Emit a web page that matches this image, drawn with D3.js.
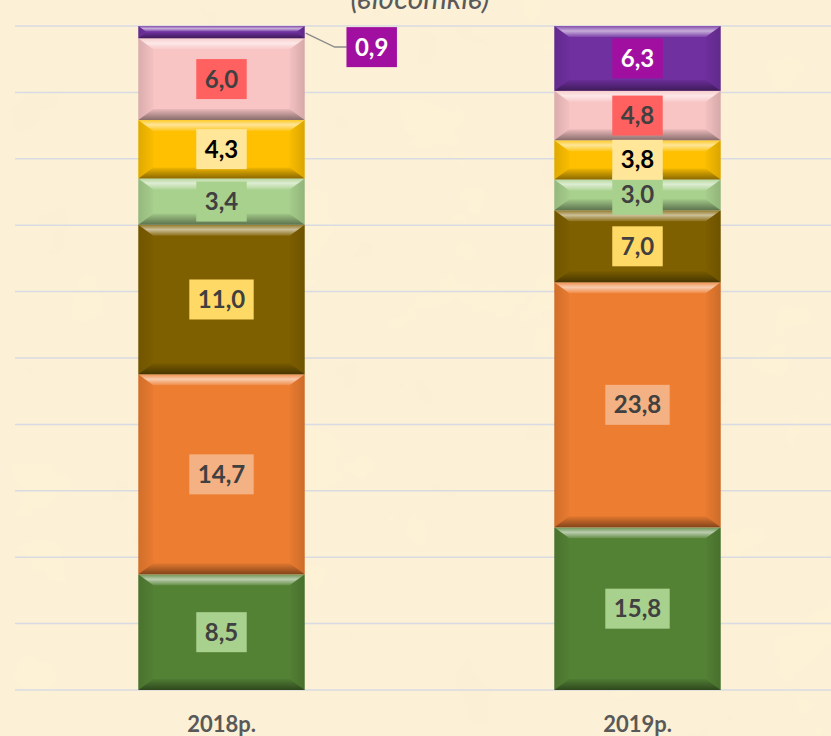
<!DOCTYPE html>
<html>
<head>
<meta charset="utf-8">
<title>Stacked chart</title>
<script src="https://cdnjs.cloudflare.com/ajax/libs/d3/7.8.5/d3.min.js"></script>
<style>
  html, body { margin: 0; padding: 0; background: #fcf0d6; }
  svg { display: block; }
</style>
</head>
<body>
<div id="chart"></div>
<script>
// data
const years = ["2018р.", "2019р."];
const values2018 = [8.5, 14.7, 11.0, 3.4, 4.3, 6.0, 0.9];
const values2019 = [15.8, 23.8, 7.0, 3.0, 3.8, 4.8, 6.3];
const segColors = ["#548235", "#ed7d31", "#7f6000", "#a9d18e", "#fec000", "#f8c4c4", "#7030a0"];
const boxColors = ["#a9d18e", "#f4b183", "#ffd966", "#a9d18e", "#ffe699", "#ff6161", "#a00fa0"];
const textColors = ["#404040", "#404040", "#404040", "#404040", "#000000", "#404040", "#ffffff"];
const yTicks = [0, 10, 20, 30, 40, 50, 60, 70, 80, 90, 100];

const width = 831, height = 736;
const svg = d3.select("#chart").append("svg")
    .attr("width", width)
    .attr("height", height);

const defs = svg.append("defs");

// parchment texture
const f = defs.append("filter").attr("id", "paper")
    .attr("x", 0).attr("y", 0).attr("width", "100%").attr("height", "100%");
f.append("feTurbulence").attr("type", "fractalNoise")
    .attr("baseFrequency", 0.012).attr("numOctaves", 4).attr("seed", 3);
f.append("feColorMatrix").attr("type", "matrix")
    .attr("values", "0 0 0 0 0.93  0 0 0 0 0.84  0 0 0 0 0.66  0 0 0 0.4 -0.05");

svg.append("rect").attr("width", width).attr("height", height).attr("fill", "#fdf1d6");
svg.append("rect").attr("width", width).attr("height", height).attr("filter", "url(#paper)");

// bevel gradients
function grad(id, stops, vertical) {
    const g = defs.append("linearGradient").attr("id", id)
        .attr("x1", 0).attr("y1", 0)
        .attr("x2", vertical ? 0 : 1).attr("y2", vertical ? 1 : 0);
    stops.forEach(s => g.append("stop").attr("offset", s[0])
        .attr("stop-color", s[1]).attr("stop-opacity", s[2]));
}
grad("bvTop", [[0, "#fff", 0.15], [0.45, "#fff", 0.6], [1, "#fff", 0.1]], true);
grad("bvBot", [[0, "#000", 0.05], [1, "#000", 0.45]], true);
grad("bvLeft", [[0, "#000", 0.12], [1, "#000", 0.02]], false);
grad("bvRight", [[0, "#000", 0.02], [1, "#000", 0.14]], false);

const x = d3.scaleBand().domain(years).range([13.5, 845.5]).paddingInner(0.6).paddingOuter(0.3);
const y = d3.scaleLinear().domain([0, 100]).range([690, 26]);

// gridlines
svg.append("g").selectAll("line")
    .data(yTicks)
    .join("line")
    .attr("x1", 15).attr("x2", width)
    .attr("y1", d => y(d)).attr("y2", d => y(d))
    .attr("stroke", "#d8dbe2")
    .attr("stroke-width", 1.5);

// title (cut off at the top, as in the source)
svg.append("text")
    .attr("x", 420).attr("y", 9)
    .attr("text-anchor", "middle")
    .style("font-family", "Lato, 'Open Sans', sans-serif")
    .style("font-style", "italic")
    .style("font-size", "30px")
    .style("fill", "#595959")
    .text("(відсотків)");

const allValues = [values2018, values2019];

allValues.forEach((vals, yi) => {
    const total = d3.sum(vals);
    const x0 = x(years[yi]);
    const w = x.bandwidth();
    let cum = 0;
    const segs = vals.map((v, i) => {
        const s = { v, i, p0: cum / total * 100, p1: (cum + v) / total * 100 };
        cum += v;
        return s;
    });

    const g = svg.append("g");
    segs.forEach(s => {
        const top = y(s.p1), bot = y(s.p0);
        const h = bot - top;
        const k = Math.min(1, h / 24);
        const by = 11 * k, bx = 15 * k;
        const seg = g.append("g");
        seg.append("rect").attr("x", x0).attr("y", top).attr("width", w).attr("height", h)
            .attr("fill", segColors[s.i]);
        const poly = (pts, fill) => seg.append("polygon")
            .attr("points", pts.map(p => p.join(",")).join(" ")).attr("fill", fill);
        poly([[x0, top], [x0 + bx, top + by], [x0 + bx, bot - by], [x0, bot]], "url(#bvLeft)");
        poly([[x0 + w, top], [x0 + w - bx, top + by], [x0 + w - bx, bot - by], [x0 + w, bot]], "url(#bvRight)");
        poly([[x0, top], [x0 + w, top], [x0 + w - bx, top + by], [x0 + bx, top + by]], "url(#bvTop)");
        poly([[x0, bot], [x0 + w, bot], [x0 + w - bx, bot - by], [x0 + bx, bot - by]], "url(#bvBot)");
    });

    // labels
    segs.forEach(s => {
        const top = y(s.p1), bot = y(s.p0);
        const outside = (bot - top) < 20;
        let cx = x0 + w / 2, cy = (top + bot) / 2;
        const lg = svg.append("g");
        if (outside) {
            // leader line to a label to the right of the bar
            const lx = x0 + w + 42 + 25, ly = cy + 15;
            svg.append("polyline")
                .attr("points", `${x0 + w + 1},${cy + 1} ${x0 + w + 30},${ly} ${x0 + w + 42},${ly}`)
                .attr("fill", "none").attr("stroke", "#8c8c8c").attr("stroke-width", 1.5);
            cx = lx; cy = ly;
            lg.raise();
        }
        const label = d3.format(".1f")(s.v).replace(".", ",");
        const t = lg.append("text")
            .attr("x", cx).attr("y", cy)
            .attr("dy", "0.36em")
            .attr("text-anchor", "middle")
            .style("font-family", "Lato, 'Open Sans', sans-serif")
            .style("font-weight", "bold")
            .style("font-size", "24px")
            .style("fill", textColors[s.i])
            .text(label);
        const tw = t.node().getComputedTextLength();
        const bw = tw + 17;
        lg.insert("rect", "text")
            .attr("x", cx - bw / 2).attr("y", cy - 20)
            .attr("width", bw).attr("height", 40)
            .attr("fill", boxColors[s.i]);
    });
});

// category labels
svg.append("g").selectAll("text")
    .data(years)
    .join("text")
    .attr("x", d => x(d) + x.bandwidth() / 2)
    .attr("y", 732)
    .attr("text-anchor", "middle")
    .style("font-family", "Lato, 'Open Sans', sans-serif")
    .style("font-weight", "bold")
    .style("font-size", "22px")
    .style("fill", "#595959")
    .text(d => d);
</script>
</body>
</html>
